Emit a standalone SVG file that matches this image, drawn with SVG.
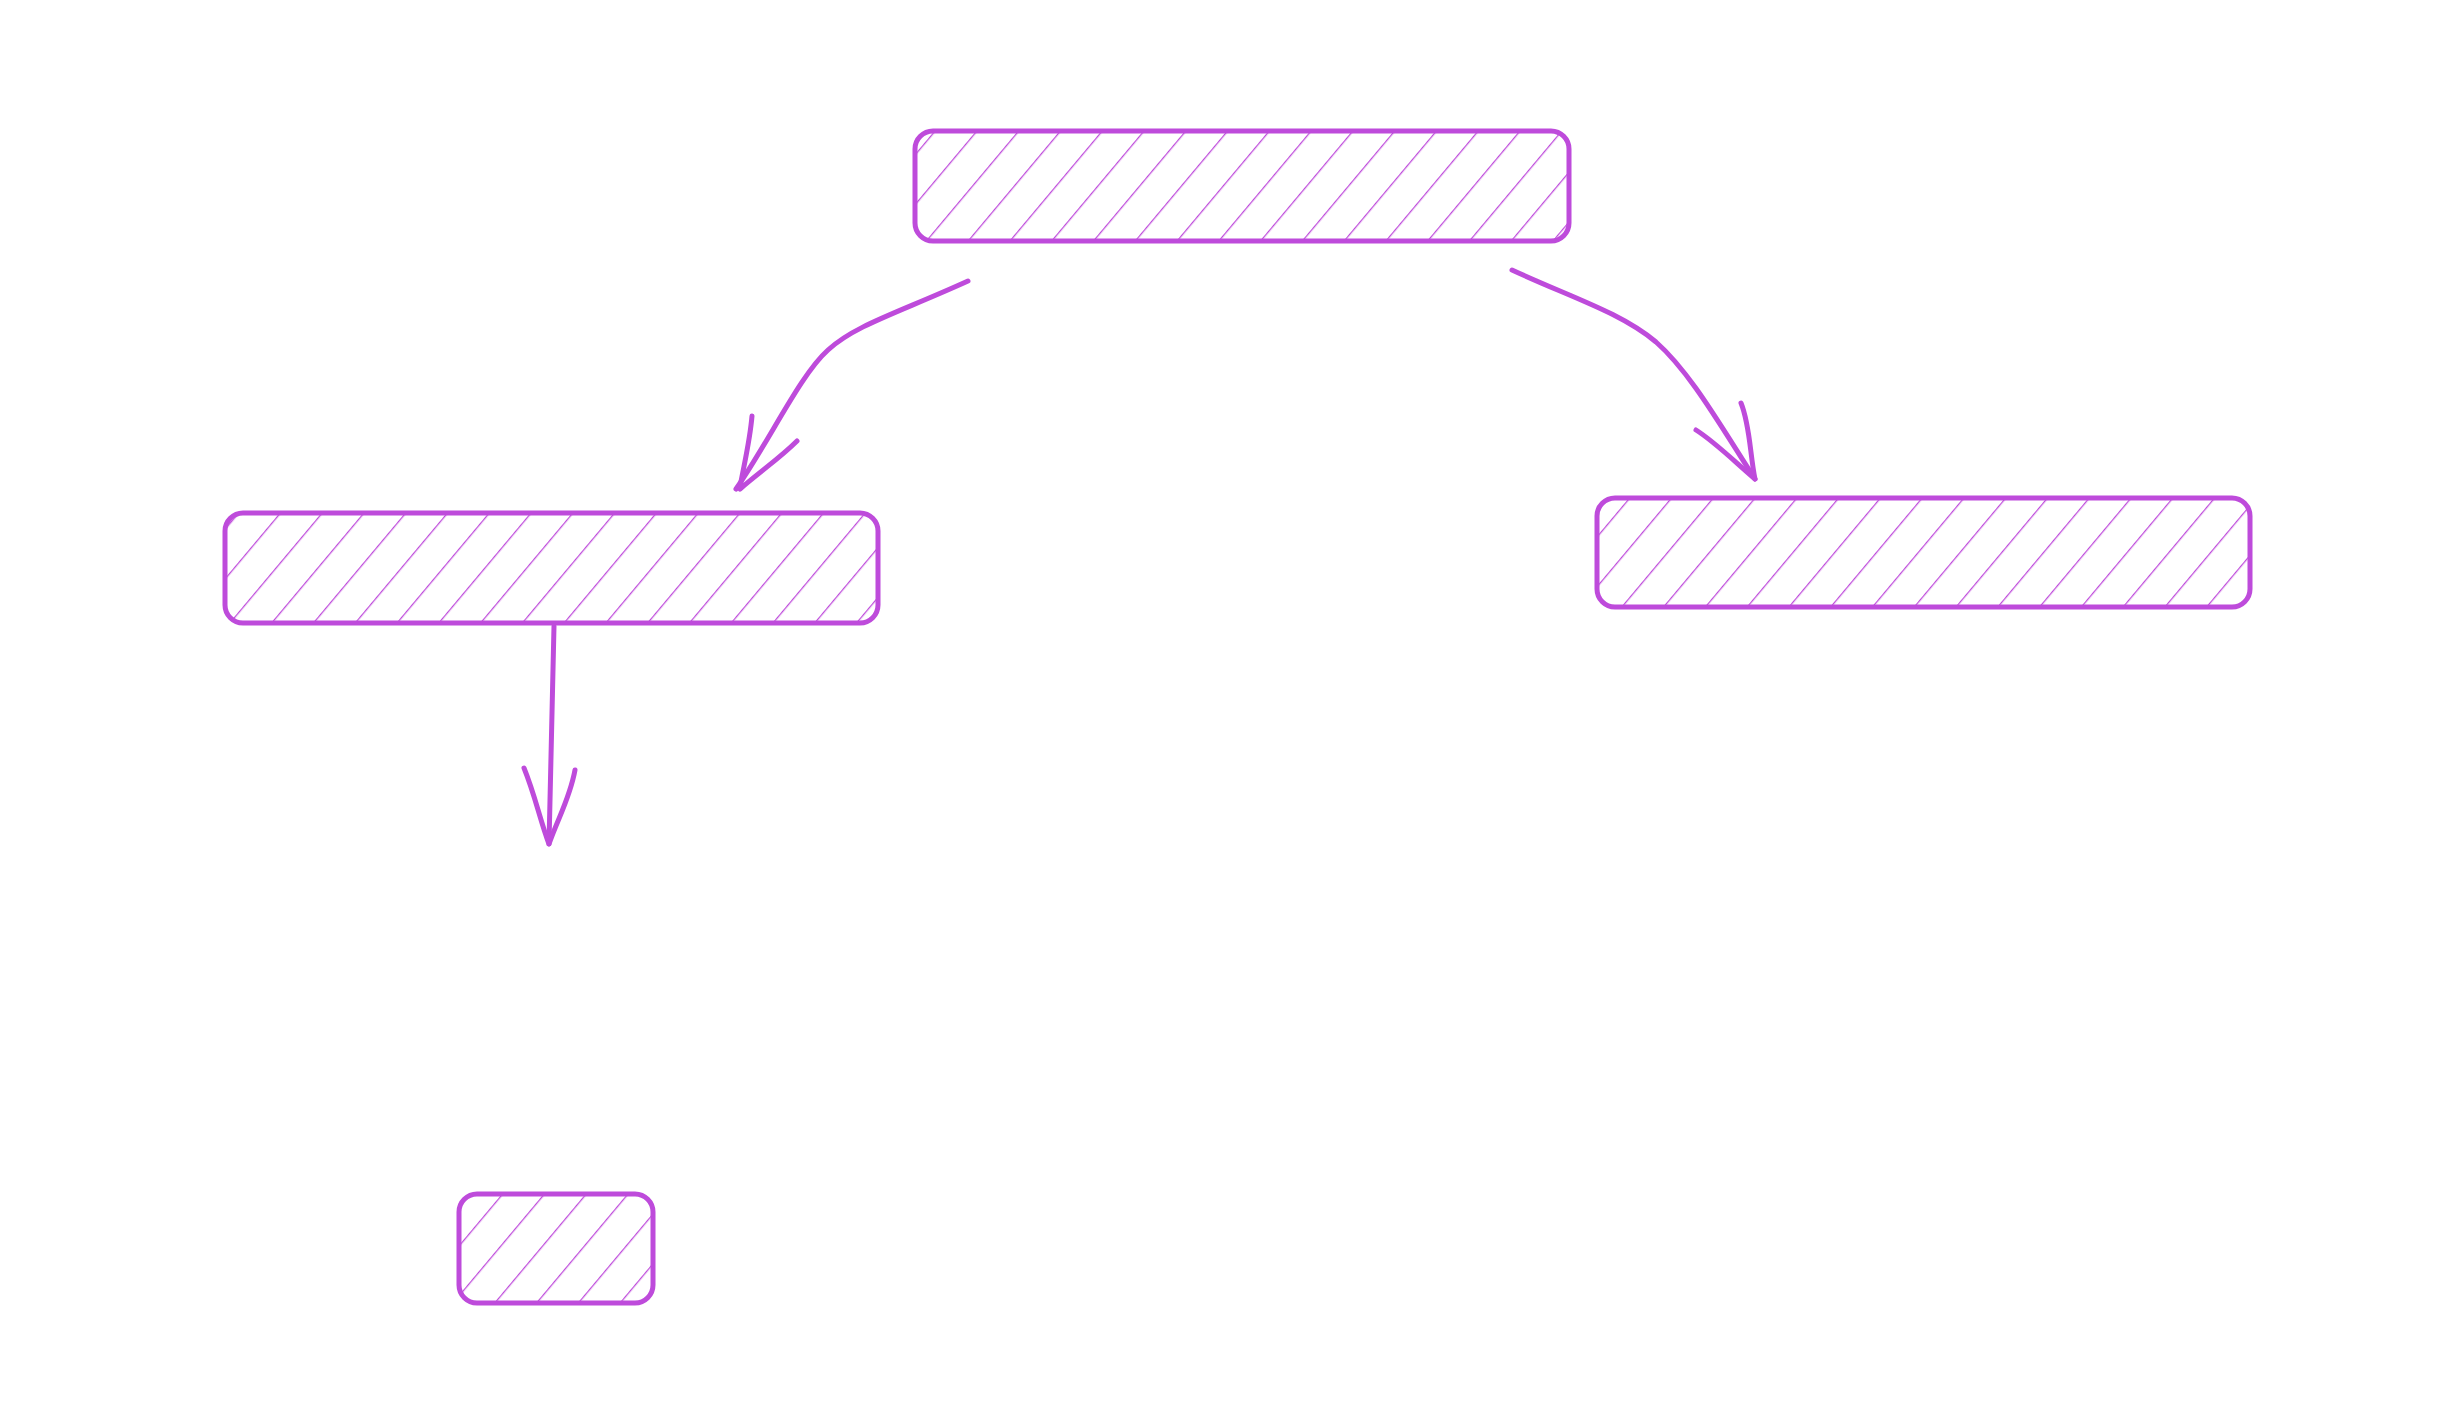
<svg xmlns="http://www.w3.org/2000/svg" width="2460" height="1404" viewBox="0 0 2460 1404">
<style>
.box{fill:url(#h);stroke:#be4bdb;stroke-width:5}
.c{fill:none;stroke:#be4bdb;stroke-width:5;stroke-linecap:round;stroke-linejoin:round}
</style>
<defs>
<pattern id="h" patternUnits="userSpaceOnUse" width="32" height="32" patternTransform="rotate(40)">
<line x1="0" y1="0" x2="0" y2="32" stroke="#be4bdb" stroke-width="2.5"/>
</pattern>
</defs>
<rect width="2460" height="1404" fill="#fff"/>
<g id="top"><rect class="box" x="915" y="131" width="654" height="110" rx="18"/></g>
<g id="left"><rect class="box" x="225" y="513" width="653" height="110" rx="18"/></g>
<g id="right"><rect class="box" x="1597" y="498" width="653" height="109" rx="18"/></g>
<g id="small"><rect class="box" x="459" y="1194" width="194" height="109" rx="18"/></g>
<g id="connectors">
<path class="c" d="M968 281 C900 312 855 325 828 350 C800 375 770 440 736 489"/>
<path class="c" d="M752 416 C750 440 745 460 740 487 M797 441 C780 458 762 470 740 489"/>
<path class="c" d="M1512 270 C1570 297 1620 312 1656 342 C1690 372 1720 425 1755 479"/>
<path class="c" d="M1741 403 C1750 425 1750 455 1755 479 M1696 430 C1715 442 1735 462 1755 479"/>
<path class="c" d="M554 626 L549 844"/>
<path class="c" d="M524 768 C535 795 540 820 549 844 M575 770 C570 798 558 818 549 844"/>
</g>
</svg>
